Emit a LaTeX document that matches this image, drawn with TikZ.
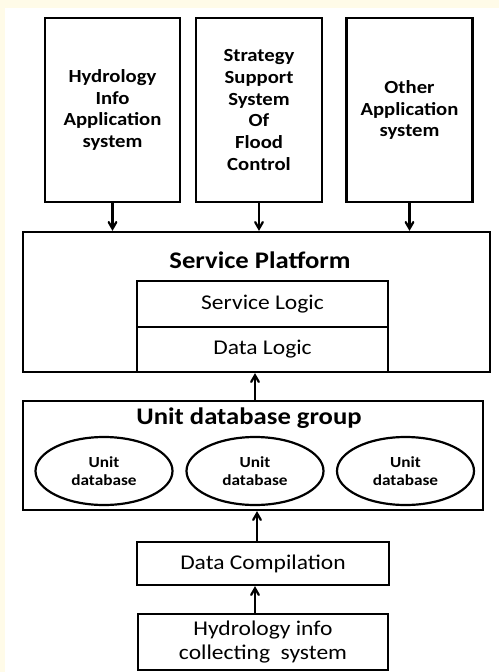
\documentclass[tikz,border=0pt]{standalone}
\usepackage{fontspec}
\setmainfont{Carlito}[FakeStretch=1.12]
\usetikzlibrary{arrows,shapes.geometric}
\definecolor{ivory}{HTML}{FFFBE8}

\tikzset{
  box/.style={draw=black, rectangle, inner sep=0pt, align=center},
  appbox/.style={box, minimum width=126pt, minimum height=184pt,
    font=\bfseries\fontsize{18.5}{21.7}\selectfont},
  logicbox/.style={box, minimum width=251pt, font=\fontsize{21}{24}\selectfont},
  unitdb/.style={draw=black, ellipse, inner sep=0pt, minimum width=137pt,
    minimum height=68pt, align=center, font=\bfseries\fontsize{15.4}{18}\selectfont},
  grouptitle/.style={font=\bfseries\fontsize{23.8}{26}\selectfont},
}

\begin{document}
\begin{tikzpicture}[x=1pt,y=-1pt,line width=2.2pt,>=angle 60]

\fill[ivory] (0,0) rectangle (499,672);
\fill[white] (5,8) rectangle (499,672);
\useasboundingbox (0,0) rectangle (499,672);

% application systems
\node[appbox, minimum width=135pt] (hydroapp) at (112.5,110) {Hydrology\\Info\\Application\\system};
\node[appbox] (flood) at (259,110) {Strategy\\Support\\System\\Of\\Flood\\Control};
\node[appbox] (otherapp) at (409.5,110) {Other\\Application\\system};

% service platform
\node[box, minimum width=467pt, minimum height=140pt] (platform) at (256.5,302) {};
\node[grouptitle] (sptitle) at (260,260) {Service Platform};
\node[logicbox, minimum height=46pt] (svclogic) at (262.5,304) {Service Logic};
\node[logicbox, minimum height=45pt] (datalogic) at (262.5,349.5) {Data Logic};

% unit databases
\node[box, minimum width=460pt, minimum height=109pt] (unitgroup) at (253,455.5) {};
\node[grouptitle] (ugtitle) at (249,418) {Unit database group};
\node[unitdb] (udb1) at (104,471) {Unit\\database};
\node[unitdb] (udb2) at (255,471) {Unit\\database};
\node[unitdb] (udb3) at (405.5,471) {Unit\\database};

% data sources
\node[logicbox, minimum width=252pt, minimum height=43pt] (compile) at (263,563.5) {Data Compilation};
\node[logicbox, minimum width=250pt, minimum height=56pt] (collect) at (263,642) {Hydrology info\\collecting\ \ system};

% arrows
\draw[->] (hydroapp.south) -- (hydroapp.south |- platform.north);
\draw[->] (flood.south) -- (flood.south |- platform.north);
\draw[->] (otherapp.south) -- (otherapp.south |- platform.north);
\draw[->] ([xshift=2pt]unitgroup.north) -- ([xshift=2pt]unitgroup.north |- datalogic.south);
\draw[->] ([xshift=-6pt]compile.north) -- ([xshift=-6pt]compile.north |- unitgroup.south);
\draw[->] ([xshift=-8pt]collect.north) -- ([xshift=-8pt]collect.north |- compile.south);

\end{tikzpicture}
\end{document}
